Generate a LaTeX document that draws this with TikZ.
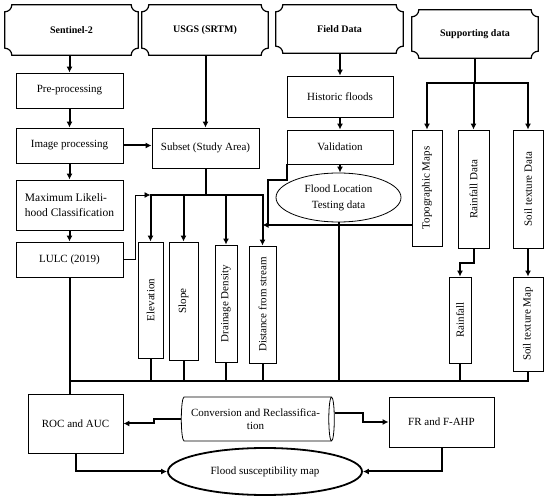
\documentclass[tikz,border=0pt]{standalone}
\usepackage{fontspec}
\setmainfont{Liberation Serif}
\usepackage{tikz}
\usetikzlibrary{positioning, calc}
\usetikzlibrary{arrows.meta, shapes.geometric}

\tikzset{
  box/.style={draw, line width=0.8pt, minimum width=107pt, minimum height=35pt, inner sep=1pt},
  vbox/.style={draw, line width=0.8pt, rotate=90, inner sep=1pt},
  source/.style={minimum width=126pt, minimum height=48pt, font=\bfseries},
  link/.style={line width=2pt},
  >={Latex[length=6pt,width=6pt]}
}

% frame with cut-in corners round a source node
\newcommand{\plaque}[1]{%
  \draw[line width=1.2pt] ($(#1.north west)+(7pt,0)$) -- ($(#1.north east)+(-7pt,0)$)
    arc[start angle=180, end angle=270, radius=7pt]
    -- ($(#1.south east)+(0,7pt)$)
    arc[start angle=90, end angle=180, radius=7pt]
    -- ($(#1.south west)+(7pt,0)$)
    arc[start angle=0, end angle=90, radius=7pt]
    -- ($(#1.north west)+(0,-7pt)$)
    arc[start angle=270, end angle=360, radius=7pt] -- cycle;}

\begin{document}
\begin{tikzpicture}[x=1pt,y=1pt,font=\fontsize{11}{13}\selectfont]
                \useasboundingbox (0,0) rectangle (550,-500);

                % data sources
                \node[source, minimum width=133pt, minimum height=50pt] (sentinel) at (71.5,-30) {Sentinel-2};
                \node[source, minimum height=50pt] (usgs) at (205,-30) {USGS (SRTM)};
                \node[source, minimum width=127pt] (field) at (339.5,-29) {Field Data};
                \node[source] (support) at (475,-34) {Supporting data};
                \foreach \n in {sentinel,usgs,field,support} \plaque{\n};

                \node[box] (pre) at (69.5,-90.5) {Pre-processing};
                \node[box] (image) at (69.5,-145.5) {Image processing};
                \node[box, minimum height=50pt, font=\fontsize{11.5}{15}\selectfont, align=left] (mlc) at (69.5,-205) {Maximum Likeli-\\hood Classification};
                \node[box] (lulc) at (69.5,-259.5) {LULC (2019)};
                \node[box, minimum height=40pt] (subset) at (205.5,-148) {Subset (Study Area)};
                \node[box, minimum width=106pt, minimum height=41pt] (historic) at (340,-96.5) {Historic floods};
                \node[box, minimum width=106pt, minimum height=34pt] (valid) at (340,-147) {Validation};
                \node[draw, ellipse, line width=0.8pt, minimum width=125pt, minimum height=49pt, align=center] (floodloc) at (338.5,-197.5) {Flood Location\\[3pt]Testing data};

                % factor maps
                \node[vbox, minimum width=116pt, minimum height=25pt] (elev) at (150.5,-300) {Elevation};
                \node[vbox, minimum width=118pt, minimum height=29pt] (slope) at (183.5,-301) {Slope};
                \node[vbox, minimum width=117pt, minimum height=22pt] (drain) at (226,-303.5) {Drainage Density};
                \node[vbox, minimum width=117pt, minimum height=27pt] (dist) at (262.5,-304.5) {Distance from stream};
                \node[vbox, minimum width=116pt, minimum height=30pt] (topo) at (427,-188) {Topographic Maps};
                \node[vbox, minimum width=118pt, minimum height=31pt] (rainD) at (473.5,-189) {Rainfall Data};
                \node[vbox, minimum width=118pt, minimum height=30pt] (soilD) at (528,-189) {Soil texture Data};
                \node[vbox, minimum width=86pt, minimum height=22pt] (rain) at (460,-320) {Rainfall};
                \node[vbox, minimum width=94pt, minimum height=30pt] (soilM) at (528,-324) {Soil texture Map};

                \node[box, minimum width=95pt, minimum height=59pt] (roc) at (75.5,-423.5) {ROC and AUC};
                \node[draw, cylinder, line width=0.8pt, aspect=0.2, minimum width=44pt, minimum height=153pt, align=center] (conv) at (255.5,-419) {Conversion and Reclassifica-\\tion};
                \node[box, minimum width=105pt, minimum height=50pt] (fr) at (441.5,-422) {FR and F-AHP};
                \node[draw, ellipse, line width=1.8pt, minimum width=194pt, minimum height=47pt] (fsm) at (265,-471.5) {Flood susceptibility map};

                \coordinate (bus) at (0,-195);
                \coordinate (join) at (0,-225);
                \coordinate (sup) at (0,-83);
                \coordinate (base) at (0,-381);

                \draw[link,->] (pre.north |- sentinel.south) -- (pre.north);
                \draw[link,->] (pre) -- (image);
                \draw[link,->] (image) -- (mlc);
                \draw[link,->] (mlc) -- (lulc);
                \draw[link,->] (subset.north |- usgs.south) -- (subset.north);
                \draw[link,->] (image.east) -- (image.east -| subset.west);
                \draw[link,->] (historic.north |- field.south) -- (historic.north);
                \draw[link,->] (historic) -- (valid);
                \draw[link,->] (valid.south) -- (valid.south |- floodloc.north);

                % study area to the factor maps
                \draw[link] (subset.south) -- (subset.south |- bus);
                \draw[link, line cap=rect] (elev.east |- bus) -- (dist.east |- bus);
                \foreach \n in {elev,slope,drain,dist} \draw[link,->] (\n.east |- bus) -- (\n.east);
                \draw[line width=0.8pt,->] (lulc.east) -- ++(12,0) |- (elev.east |- bus);
                \draw[link] (valid.south west) -- ++(0,-16) -- ++(-19,0) -- ++(0,-45);
                \draw[link,->] (topo.north |- join) -- (dist.east |- join);
                \draw[link] (floodloc.south) -- (floodloc.south |- base);

                % supporting data
                \draw[link] (support.south) -- (support.south |- sup);
                \draw[link, line cap=rect] (topo.east |- sup) -- (soilD.east |- sup);
                \foreach \n in {topo,rainD,soilD} \draw[link,->] (\n.east |- sup) -- (\n.east);
                \draw[link,->] (rainD.west) -- ++(0,-15) -| (rain.east);
                \draw[link,->] (soilD.west) -- (soilM.east);

                % everything down to the models
                \draw[link] (lulc.south) -- (lulc.south |- roc.north);
                \draw[link, line cap=rect] (lulc.south |- base) -- (soilM.west |- base);
                \foreach \n in {elev,slope,drain,dist,rain,soilM} \draw[link] (\n.west) -- (\n.west |- base);

                \draw[link,->] (conv.west) -- ++(-27,0) |- (roc.east);
                \draw[link,->] ([yshift=6pt]conv.east) -- ++(28,0) |- (fr.west);
                \draw[link,->] (roc.south) |- (fsm.west);
                \draw[link,->] (fr.south) |- (fsm.east);
\end{tikzpicture}
\end{document}
